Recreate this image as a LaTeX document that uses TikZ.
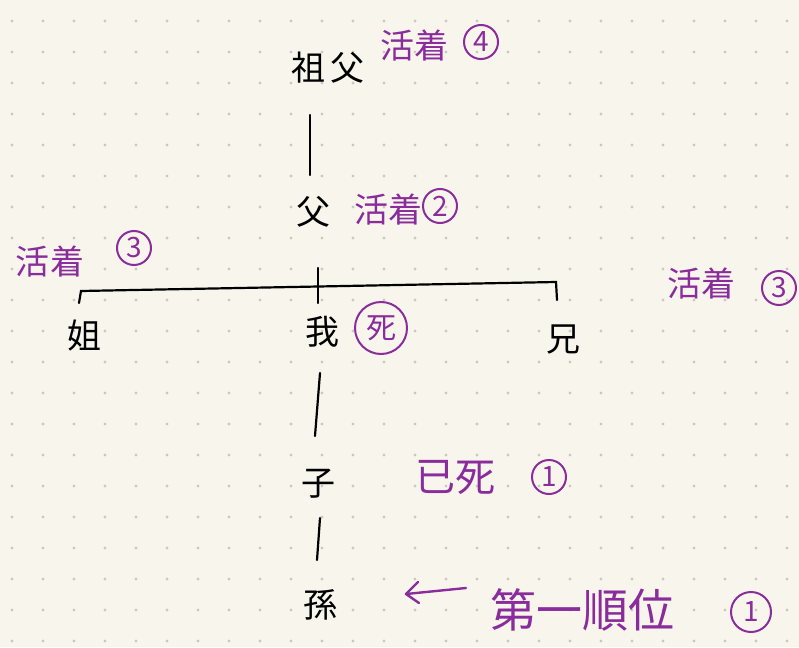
\documentclass[tikz,border=0pt]{standalone}
\usepackage{fontspec}
\newfontfamily\jp{Noto Sans CJK JP}[Scale=1]
\definecolor{paper}{HTML}{F8F6EC}
\definecolor{dotc}{HTML}{C9C8C2}
\definecolor{pen}{HTML}{8A2C9C}
\tikzset{
  blk/.style={font=\jp\fontsize{34}{38}\selectfont, text=black, inner sep=0pt},
  pur/.style={font=\jp\fontsize{34}{38}\selectfont, text=pen, inner sep=0pt},
  circnum/.style={circle, draw=pen, line width=2pt, text=pen, minimum size=34pt, inner sep=0pt, font=\jp\fontsize{28}{30}\selectfont},
  bigcirc/.style={circle, draw=pen, line width=2pt, text=pen, minimum size=52pt, inner sep=0pt, font=\jp\fontsize{30}{32}\selectfont},
  tree/.style={draw=black, line width=2.2pt, line cap=round},
  penline/.style={draw=pen, line width=2.4pt, line cap=round, line join=round}
}
\begin{document}
\begin{tikzpicture}[x=1pt,y=-1pt]
\fill[paper] (0,0) rectangle (799,647);
\useasboundingbox (0,0) rectangle (799,647);
\foreach \i in {0,...,25}{\foreach \j in {0,...,20}{
  \fill[dotc] ({12+31*\i},{21+31*\j}) circle (1.7);}}
% black family nodes
\node[blk] (sofu) at (328,68) {祖\,父};
\node[blk] (chichi) at (313,212) {父};
\node[blk] (ane) at (84,336) {姐};
\node[blk] (ware) at (322,332) {我};
\node[blk] (ani) at (563,340) {兄};
\node[blk] (ko) at (318,484) {子};
\node[blk] (mago) at (320,605) {孫};
% purple annotations
\node[pur] (kat4) at (414,46) {活着};
\node[circnum] (n4) at (481,42) {4};
\node[pur] (kat2) at (388,210) {活着};
\node[circnum] (n2) at (440,206) {2};
\node[pur] (katL) at (50,262) {活着};
\node[circnum] (n3L) at (134,248) {3};
\node[bigcirc] (shi) at (381,328) {死};
\node[pur] (katR) at (701,284) {活着};
\node[circnum] (n3R) at (779,288) {3};
\node[pur, font=\jp\fontsize{40}{44}\selectfont] (sumi) at (455,478) {已死};
\node[circnum] (n1a) at (549,477) {1};
\node[pur, font=\jp\fontsize{46}{50}\selectfont] (juni) at (582,610) {第一順位};
\node[circnum, minimum size=40pt] (n1b) at (751,612) {1};
% tree lines
\coordinate (a1) at (310,115); \coordinate (a2) at (310,175);
\draw[tree] (a1) -- (a2);
\coordinate (m1) at (318,268); \coordinate (m2) at (318,303);
\draw[tree] (m1) -- (m2);
\coordinate (bl0) at (79,303); \coordinate (bl) at (81,291);
\coordinate (br) at (556,282); \coordinate (br0) at (557,300);
\draw[tree] (bl0) -- (bl) -- (br) -- (br0);
\coordinate (b1) at (320,373); \coordinate (b2) at (315,436);
\draw[tree] (b1) -- (b2);
\coordinate (c1) at (320,518); \coordinate (c2) at (317,560);
\draw[tree] (c1) -- (c2);
% arrow
\coordinate (ar1) at (466,588); \coordinate (ar2) at (406,594);
\draw[penline] (ar1) -- (ar2);
\draw[penline] (418,582) -- (ar2) -- (419,603);
\end{tikzpicture}
\end{document}
